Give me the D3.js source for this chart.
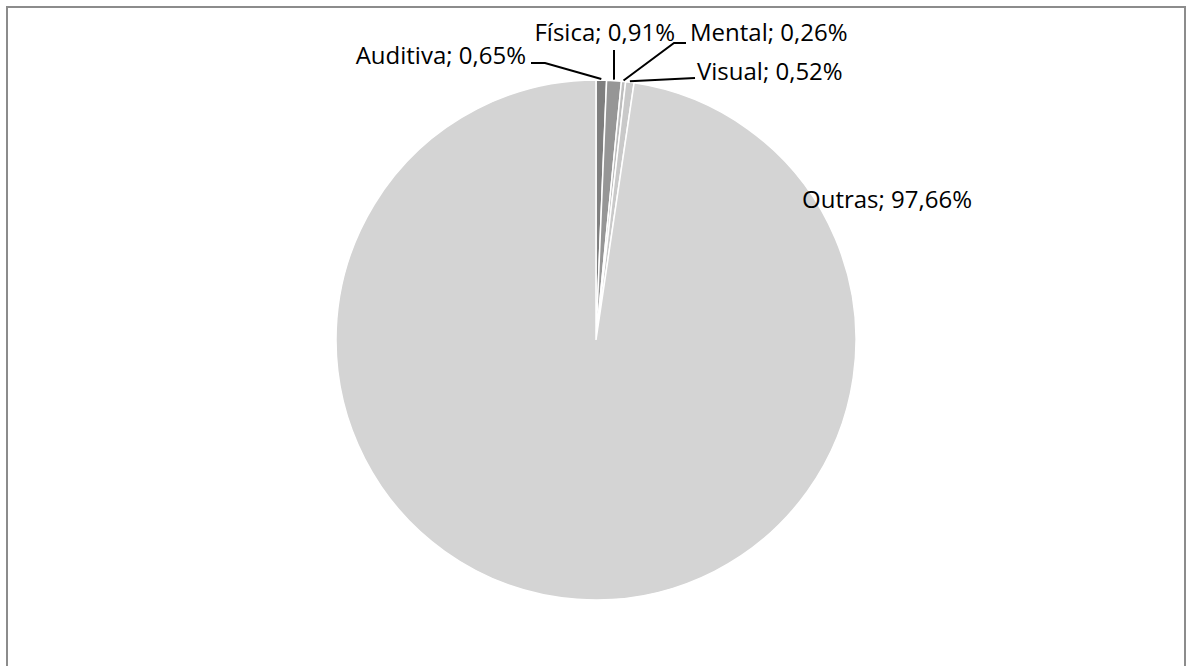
<!DOCTYPE html>
<html>
<head>
<meta charset="utf-8">
<script src="https://cdn.jsdelivr.net/npm/d3@7"></script>
<style>
  body { margin: 0; background: #fff; }
  text { font-family: "Open Sans", "Noto Sans", sans-serif; font-size: 24px; fill: #000; }
</style>
</head>
<body>
<svg id="chart" width="1188" height="666"></svg>
<script>
// data
var categories = ["Auditiva", "Física", "Mental", "Visual", "Outras"]
var values = [0.65, 0.91, 0.26, 0.52, 97.66]
var valueLabels = ["0,65%", "0,91%", "0,26%", "0,52%", "97,66%"]
var colors = ["#7f7f7f", "#969696", "#bdbdbd", "#c9c9c9", "#d4d4d4"]

// label placement (text anchor + bend points of leader line)
var labelLayout = [
  { x: 526, y: 64, anchor: "end", bend: [[531, 63], [545, 63]] },
  { x: 675, y: 41, anchor: "end", bend: [[614, 50]] },
  { x: 690, y: 41, anchor: "start", bend: [[686, 43], [674, 43]] },
  { x: 697, y: 80, anchor: "start", bend: [[695, 78]] },
  { x: 802, y: 208, anchor: "start", bend: null }
]

var width = 1188, height = 666
var cx = 596, cy = 340, r = 260

var svg = d3.select("#chart")

svg.append("rect")
  .attr("x", 7).attr("y", 7)
  .attr("width", 1178).attr("height", 666)
  .attr("fill", "none")
  .attr("stroke", "#8c8c8c")
  .attr("stroke-width", 2)

var data = categories.map(function(c, i){
  return { name: c, value: values[i], label: valueLabels[i], color: colors[i], layout: labelLayout[i] }
})

var pie = d3.pie().sort(null).value(function(d){ return d.value })
var arc = d3.arc().innerRadius(0).outerRadius(r)

var g = svg.append("g").attr("transform", "translate(" + cx + "," + cy + ")")

var arcs = pie(data)

g.selectAll("path.slice").data(arcs).enter().append("path")
  .attr("class", "slice")
  .attr("d", arc)
  .attr("fill", function(d){ return d.data.color })
  .attr("stroke", "#fff")
  .attr("stroke-width", 1.5)

// leader lines
arcs.forEach(function(d){
  var lay = d.data.layout
  if(!lay.bend) return
  var mid = (d.startAngle + d.endAngle) / 2
  var ex = cx + r * Math.sin(mid)
  var ey = cy - r * Math.cos(mid)
  var pts = lay.bend.concat([[ex, ey - 1]])
  svg.append("path")
    .attr("d", d3.line()(pts))
    .attr("fill", "none")
    .attr("stroke", "#000")
    .attr("stroke-width", 2)
})

svg.selectAll("text.lbl").data(arcs).enter().append("text")
  .attr("class", "lbl")
  .attr("x", function(d){ return d.data.layout.x })
  .attr("y", function(d){ return d.data.layout.y })
  .attr("text-anchor", function(d){ return d.data.layout.anchor })
  .text(function(d){ return d.data.name + "; " + d.data.label })
</script>
</body>
</html>
